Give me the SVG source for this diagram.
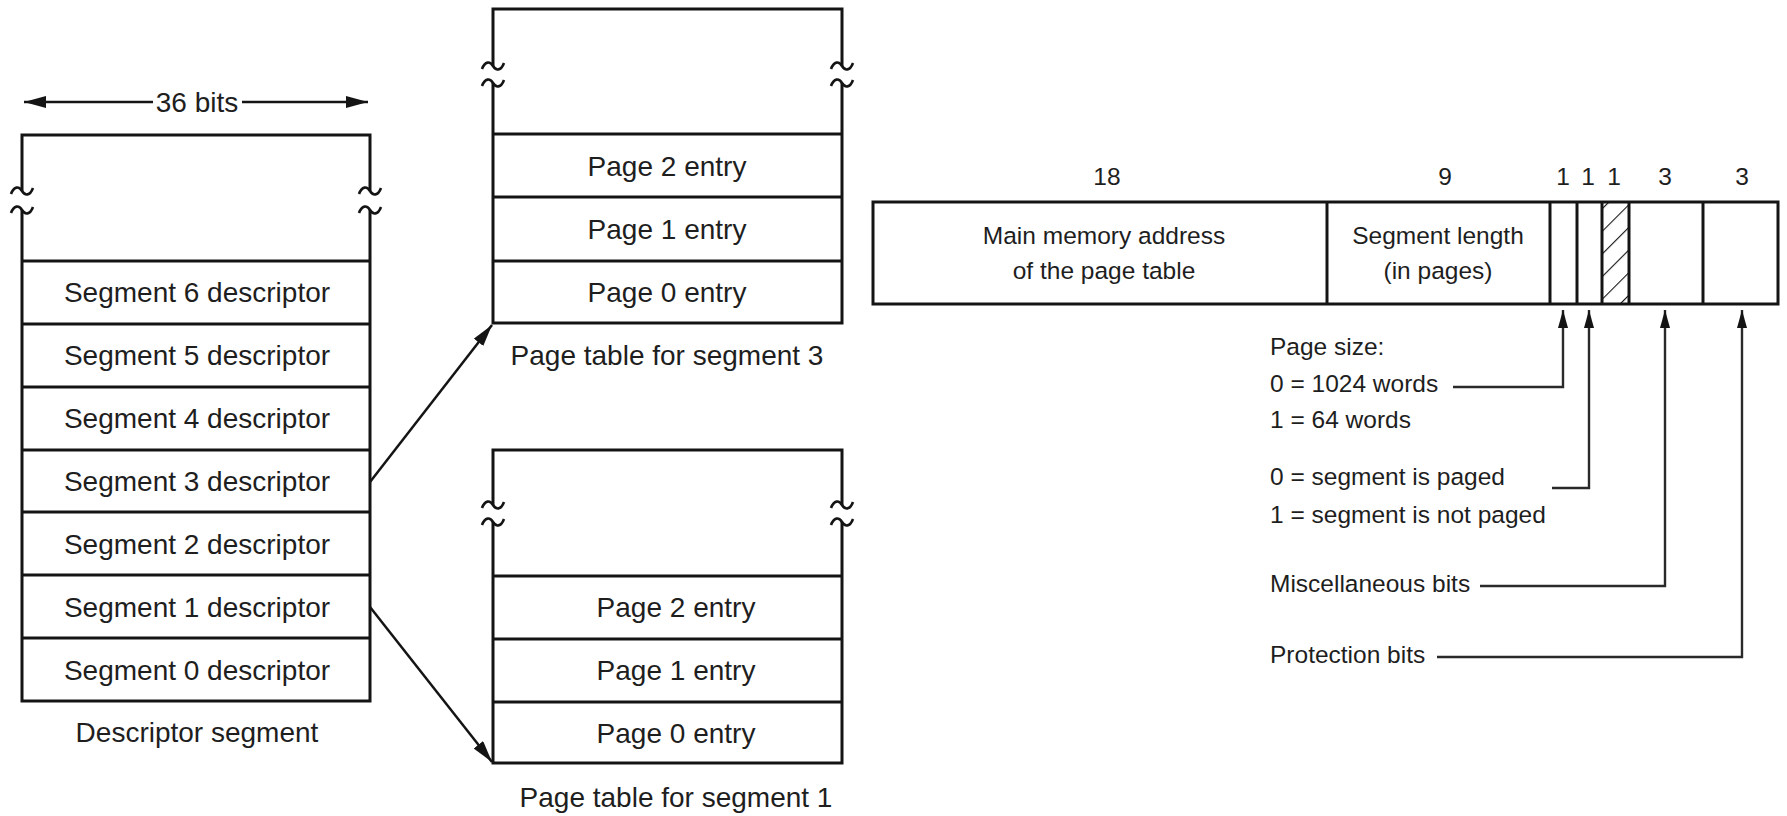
<svg xmlns="http://www.w3.org/2000/svg" width="1787" height="816" viewBox="0 0 1787 816">
  <style>
    text { font-family: "Liberation Sans", Arial, Helvetica, sans-serif; fill: #1e1e1e; }
    .big { font-size: 28px; text-anchor: middle; }
    .sm { font-size: 24.5px; }
    .smc { font-size: 24.5px; text-anchor: middle; }
    .box { fill: none; stroke: #141414; stroke-width: 3; }
    .div { stroke: #141414; stroke-width: 3; }
    .brk { fill: none; stroke: #141414; stroke-width: 2.6; }
    .conn { fill: none; stroke: #141414; stroke-width: 2.5; }
    .lead { fill: none; stroke: #2a2a2a; stroke-width: 2.4; }
  </style>
  <defs>
    <!-- break mark drawn across a vertical edge -->
    <path id="brk" d="M-11,3 C-8,-5 -3,-5 0,0 C3,5 8,5 11,-3"/>
    <marker id="arrowL" markerUnits="userSpaceOnUse" markerWidth="24" markerHeight="14" refX="22" refY="6" orient="auto">
      <path d="M0,0 L22,6 L0,12 Z" fill="#141414"/>
    </marker>
    <marker id="arrowS" markerUnits="userSpaceOnUse" markerWidth="20" markerHeight="12" refX="18" refY="5" orient="auto">
      <path d="M0,0 L18,5 L0,10 Z" fill="#141414"/>
    </marker>
    <pattern id="hatch" patternUnits="userSpaceOnUse" width="16" height="16" patternTransform="rotate(45)">
      <line x1="0" y1="0" x2="0" y2="16" stroke="#141414" stroke-width="2.2"/>
    </pattern>
  </defs>

  <rect width="1787" height="816" fill="#ffffff"/>

  <!-- width marker above the descriptor segment -->
  <g id="width-label">
    <line class="conn" x1="153" y1="102" x2="24" y2="102" marker-end="url(#arrowL)"/>
    <line class="conn" x1="242" y1="102" x2="368" y2="102" marker-end="url(#arrowL)"/>
    <text class="big" x="197" y="112">36 bits</text>
  </g>

  <!-- descriptor segment -->
  <g id="descriptor-segment">
    <path class="box" d="M22,191 V135 H370 V191 M22,210 V701 H370 V210"/>
    <use href="#brk" class="brk" x="22" y="191"/>
    <use href="#brk" class="brk" x="22" y="210"/>
    <use href="#brk" class="brk" x="370" y="191"/>
    <use href="#brk" class="brk" x="370" y="210"/>
    <line class="div" x1="22" y1="261" x2="370" y2="261"/>
    <line class="div" x1="22" y1="324" x2="370" y2="324"/>
    <line class="div" x1="22" y1="387" x2="370" y2="387"/>
    <line class="div" x1="22" y1="450" x2="370" y2="450"/>
    <line class="div" x1="22" y1="512" x2="370" y2="512"/>
    <line class="div" x1="22" y1="575" x2="370" y2="575"/>
    <line class="div" x1="22" y1="638" x2="370" y2="638"/>
    <text class="big" x="197" y="302">Segment 6 descriptor</text>
    <text class="big" x="197" y="365">Segment 5 descriptor</text>
    <text class="big" x="197" y="428">Segment 4 descriptor</text>
    <text class="big" x="197" y="491">Segment 3 descriptor</text>
    <text class="big" x="197" y="554">Segment 2 descriptor</text>
    <text class="big" x="197" y="617">Segment 1 descriptor</text>
    <text class="big" x="197" y="680">Segment 0 descriptor</text>
    <text class="big" x="197" y="742">Descriptor segment</text>
  </g>

  <!-- page table for segment 3 -->
  <g id="page-table-3">
    <path class="box" d="M493,66 V9 H842 V66 M493,83 V323 H842 V83"/>
    <use href="#brk" class="brk" x="493" y="66"/>
    <use href="#brk" class="brk" x="493" y="83"/>
    <use href="#brk" class="brk" x="842" y="66"/>
    <use href="#brk" class="brk" x="842" y="83"/>
    <line class="div" x1="493" y1="134" x2="842" y2="134"/>
    <line class="div" x1="493" y1="197" x2="842" y2="197"/>
    <line class="div" x1="493" y1="261" x2="842" y2="261"/>
    <text class="big" x="667" y="176">Page 2 entry</text>
    <text class="big" x="667" y="239">Page 1 entry</text>
    <text class="big" x="667" y="302">Page 0 entry</text>
    <text class="big" x="667" y="365">Page table for segment 3</text>
  </g>

  <!-- page table for segment 1 -->
  <g id="page-table-1">
    <path class="box" d="M493,505 V450 H842 V505 M493,522 V763 H842 V522"/>
    <use href="#brk" class="brk" x="493" y="505"/>
    <use href="#brk" class="brk" x="493" y="522"/>
    <use href="#brk" class="brk" x="842" y="505"/>
    <use href="#brk" class="brk" x="842" y="522"/>
    <line class="div" x1="493" y1="576" x2="842" y2="576"/>
    <line class="div" x1="493" y1="639" x2="842" y2="639"/>
    <line class="div" x1="493" y1="702" x2="842" y2="702"/>
    <text class="big" x="676" y="617">Page 2 entry</text>
    <text class="big" x="676" y="680">Page 1 entry</text>
    <text class="big" x="676" y="743">Page 0 entry</text>
    <text class="big" x="676" y="807">Page table for segment 1</text>
  </g>

  <!-- segment descriptor word layout -->
  <g id="descriptor-word">
    <rect x="1602" y="202" width="27" height="102" fill="url(#hatch)"/>
    <rect class="box" x="873" y="202" width="905" height="102"/>
    <line class="div" x1="1327" y1="202" x2="1327" y2="304"/>
    <line class="div" x1="1550" y1="202" x2="1550" y2="304"/>
    <line class="div" x1="1577" y1="202" x2="1577" y2="304"/>
    <line class="div" x1="1602" y1="202" x2="1602" y2="304"/>
    <line class="div" x1="1629" y1="202" x2="1629" y2="304"/>
    <line class="div" x1="1703" y1="202" x2="1703" y2="304"/>
    <text class="smc" x="1107" y="185">18</text>
    <text class="smc" x="1445" y="185">9</text>
    <text class="smc" x="1563" y="185">1</text>
    <text class="smc" x="1588" y="185">1</text>
    <text class="smc" x="1614" y="185">1</text>
    <text class="smc" x="1665" y="185">3</text>
    <text class="smc" x="1742" y="185">3</text>
    <text class="smc" x="1104" y="244">Main memory address</text>
    <text class="smc" x="1104" y="279">of the page table</text>
    <text class="smc" x="1438" y="244">Segment length</text>
    <text class="smc" x="1438" y="279">(in pages)</text>
  </g>

  <!-- field descriptions -->
  <g id="field-notes">
    <text class="sm" x="1270" y="355">Page size:</text>
    <text class="sm" x="1270" y="392">0 = 1024 words</text>
    <text class="sm" x="1270" y="428">1 = 64 words</text>
    <text class="sm" x="1270" y="485">0 = segment is paged</text>
    <text class="sm" x="1270" y="523">1 = segment is not paged</text>
    <text class="sm" x="1270" y="592">Miscellaneous bits</text>
    <text class="sm" x="1270" y="663">Protection bits</text>
  </g>

  <!-- connectors -->
  <g id="connectors">
    <line class="conn" x1="370" y1="482" x2="492" y2="325" marker-end="url(#arrowL)"/>
    <line class="conn" x1="370" y1="607" x2="492" y2="762" marker-end="url(#arrowL)"/>
    <path class="lead" d="M1453,387 H1563 V310" marker-end="url(#arrowS)"/>
    <path class="lead" d="M1552,488 H1589 V310" marker-end="url(#arrowS)"/>
    <path class="lead" d="M1480,586 H1665 V310" marker-end="url(#arrowS)"/>
    <path class="lead" d="M1437,657 H1742 V310" marker-end="url(#arrowS)"/>
  </g>
</svg>
